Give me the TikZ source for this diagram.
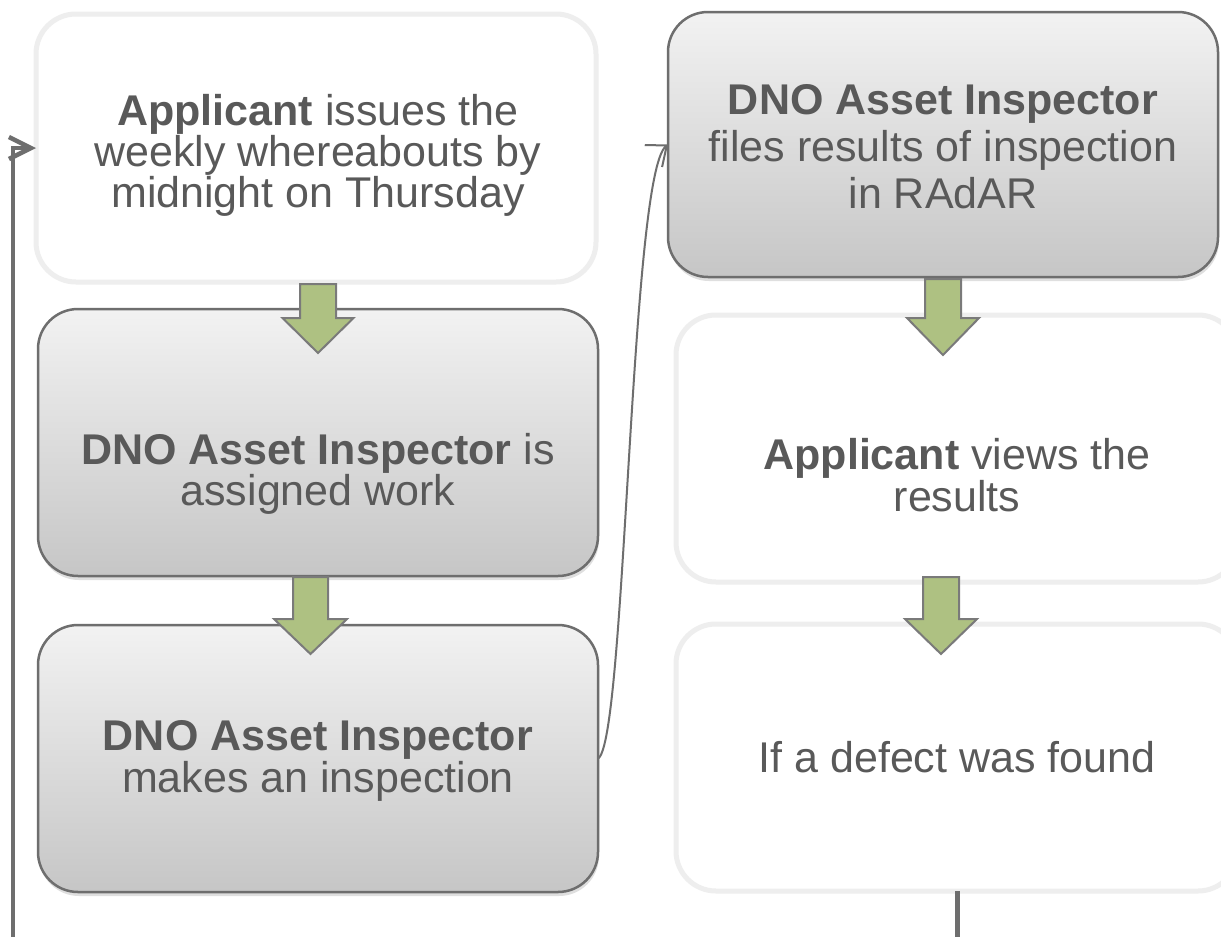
\documentclass[tikz,border=0pt]{standalone}
\usepackage{fontspec}
\setmainfont{Liberation Sans}
\usetikzlibrary{arrows.meta,shadows}
\definecolor{txt}{HTML}{595959}
\definecolor{grn}{HTML}{AEC182}
\definecolor{agray}{HTML}{7A7A7A}
\definecolor{lborder}{HTML}{EEEEEE}
\definecolor{dborder}{HTML}{6E6E6E}
\definecolor{gtop}{HTML}{F2F2F2}
\definecolor{gbot}{HTML}{C6C6C6}
\definecolor{conn}{HTML}{6E6E6E}
\begin{document}
\begin{tikzpicture}[x=1pt,y=-1pt,
  boxbase/.style={rectangle, rounded corners=40pt, inner sep=0pt, outer sep=0pt},
  whitebox/.style={boxbase, draw=lborder, line width=5pt, fill=white},
  graybox/.style={boxbase, draw=dborder, line width=2.5pt, top color=gtop, bottom color=gbot,
    drop shadow={shadow xshift=1pt, shadow yshift=-4pt, opacity=0.25}},
  lbl/.style={text=txt, align=center, inner sep=0pt, font=\fontsize{43}{#1}\selectfont},
  lbl/.default=42,
  blockarrow/.style={fill=grn, draw=agray, line width=2pt, line join=miter},
  connline/.style={draw=conn}
]
\useasboundingbox (0,0) rectangle (1221,937);
\clip (0,0) rectangle (1221,937);
\fill[white] (0,0) rectangle (1221,937);

% boxes
\node[whitebox, minimum width=560pt, minimum height=268pt] (b1) at (316,148) {};
\node[graybox, minimum width=560pt, minimum height=267pt] (b2) at (318,442.5) {};
\node[graybox, minimum width=560pt, minimum height=267pt] (b3) at (318,758.5) {};
\node[graybox, minimum width=550pt, minimum height=265pt] (b4) at (943,144.5) {};
\node[whitebox, minimum width=562pt, minimum height=267pt] (b5) at (957,448.5) {};
\node[whitebox, minimum width=562pt, minimum height=267pt] (b6) at (957,757.5) {};

% block arrows
\draw[blockarrow] (300,284) -- (336,284) -- (336,318) -- (353.5,318) -- (318,353) -- (282.5,318) -- (300,318) -- cycle;
\draw[blockarrow] (293,577) -- (328,577) -- (328,619) -- (347,619) -- (310.5,654) -- (274,619) -- (293,619) -- cycle;
\draw[blockarrow] (925,279) -- (961,279) -- (961,318) -- (979,318) -- (943,355) -- (907,318) -- (925,318) -- cycle;
\draw[blockarrow] (923,577) -- (959,577) -- (959,619) -- (977,619) -- (941,654) -- (905,619) -- (923,619) -- cycle;

% connectors
\coordinate (lstart) at (13,937);
\coordinate (rend) at (957,937);
\draw[connline, line width=4.5pt, -{Straight Barb[length=22pt, width=22pt]}] (lstart) |- (b1.west);
\draw[connline, line width=2pt, -{Straight Barb[length=17pt, width=28pt]}] (b3.east) .. controls +(28,-15) and +(-38,30) .. (b4.west);
\draw[connline, line width=5pt] (b6.south) -- (rend);

% texts
\node[lbl=39] (t1) at (318,155) {\textbf{Applicant} issues the\\weekly whereabouts by\\midnight on Thursday};
\node[lbl=40] (t2) at (318,474) {\textbf{DNO Asset Inspector} is\\assigned work};
\node[lbl=42] (t3) at (318,761) {\textbf{DNO Asset Inspector}\\makes an inspection};
\node[lbl=47] (t4) at (943,147) {\textbf{DNO Asset Inspector}\\files results of inspection\\in RAdAR};
\node[lbl=42] (t5) at (957,475) {\textbf{Applicant} views the\\results};
\node[lbl] (t6) at (957,757) {If a defect was found};
\end{tikzpicture}
\end{document}
